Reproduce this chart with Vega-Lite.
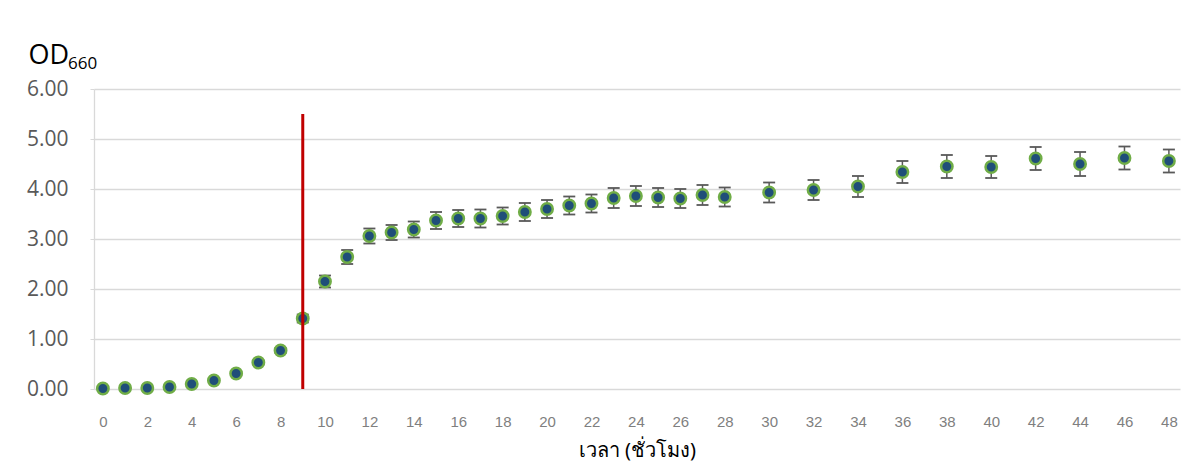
{
  "$schema": "https://vega.github.io/schema/vega-lite/v6.json",
  "width": 1086,
  "height": 300,
  "autosize": {"type": "none"},
  "padding": {"left": 94, "top": 89, "right": 21, "bottom": 73},
  "background": "white",
  "title": {"text": "660", "anchor": "start", "frame": "group", "fontSize": 17, "font": "Open Sans", "fontWeight": "normal", "color": "#000000", "dx": -26, "dy": 36},
  "config": {"view": {"stroke": null}},
  "datasets": {
    "growth": [
      {"t": 0, "od": 0.01, "lo": 0.0, "hi": 0.02},
      {"t": 1, "od": 0.02, "lo": 0.01, "hi": 0.03},
      {"t": 2, "od": 0.02, "lo": 0.01, "hi": 0.03},
      {"t": 3, "od": 0.04, "lo": 0.03, "hi": 0.05},
      {"t": 4, "od": 0.10, "lo": 0.08, "hi": 0.12},
      {"t": 5, "od": 0.17, "lo": 0.15, "hi": 0.19},
      {"t": 6, "od": 0.31, "lo": 0.28, "hi": 0.34},
      {"t": 7, "od": 0.53, "lo": 0.49, "hi": 0.57},
      {"t": 8, "od": 0.77, "lo": 0.72, "hi": 0.82},
      {"t": 9, "od": 1.41, "lo": 1.33, "hi": 1.49},
      {"t": 10, "od": 2.15, "lo": 2.03, "hi": 2.27},
      {"t": 11, "od": 2.64, "lo": 2.50, "hi": 2.78},
      {"t": 12, "od": 3.06, "lo": 2.91, "hi": 3.21},
      {"t": 13, "od": 3.13, "lo": 2.98, "hi": 3.28},
      {"t": 14, "od": 3.19, "lo": 3.03, "hi": 3.35},
      {"t": 15, "od": 3.37, "lo": 3.20, "hi": 3.54},
      {"t": 16, "od": 3.41, "lo": 3.24, "hi": 3.58},
      {"t": 17, "od": 3.41, "lo": 3.23, "hi": 3.59},
      {"t": 18, "od": 3.46, "lo": 3.29, "hi": 3.63},
      {"t": 19, "od": 3.54, "lo": 3.36, "hi": 3.72},
      {"t": 20, "od": 3.60, "lo": 3.42, "hi": 3.78},
      {"t": 21, "od": 3.67, "lo": 3.49, "hi": 3.85},
      {"t": 22, "od": 3.71, "lo": 3.53, "hi": 3.89},
      {"t": 23, "od": 3.82, "lo": 3.62, "hi": 4.02},
      {"t": 24, "od": 3.86, "lo": 3.66, "hi": 4.06},
      {"t": 25, "od": 3.83, "lo": 3.64, "hi": 4.02},
      {"t": 26, "od": 3.81, "lo": 3.62, "hi": 4.00},
      {"t": 27, "od": 3.88, "lo": 3.68, "hi": 4.08},
      {"t": 28, "od": 3.84, "lo": 3.65, "hi": 4.03},
      {"t": 30, "od": 3.93, "lo": 3.73, "hi": 4.13},
      {"t": 32, "od": 3.98, "lo": 3.78, "hi": 4.18},
      {"t": 34, "od": 4.05, "lo": 3.84, "hi": 4.26},
      {"t": 36, "od": 4.34, "lo": 4.12, "hi": 4.56},
      {"t": 38, "od": 4.45, "lo": 4.22, "hi": 4.68},
      {"t": 40, "od": 4.44, "lo": 4.22, "hi": 4.66},
      {"t": 42, "od": 4.61, "lo": 4.38, "hi": 4.84},
      {"t": 44, "od": 4.50, "lo": 4.26, "hi": 4.74},
      {"t": 46, "od": 4.62, "lo": 4.39, "hi": 4.85},
      {"t": 48, "od": 4.56, "lo": 4.33, "hi": 4.79}
    ],
    "marker": [
      {"t": 9, "y0": 0, "y1": 5.5}
    ]
  },
  "encoding": {
    "x": {
      "field": "t",
      "type": "quantitative",
      "title": "เวลา (ชั่วโมง)",
      "scale": {"domain": [-0.4, 48.5], "nice": false, "zero": false},
      "axis": {
        "values": [0, 2, 4, 6, 8, 10, 12, 14, 16, 18, 20, 22, 24, 26, 28, 30, 32, 34, 36, 38, 40, 42, 44, 46, 48],
        "grid": false,
        "domain": false,
        "ticks": false,
        "labelFont": "Liberation Sans",
        "labelFontSize": 15,
        "labelColor": "#7f7f7f",
        "labelPadding": 25,
        "titleFont": "Noto Sans",
        "titleFontSize": 20,
        "titleFontWeight": "normal",
        "titleColor": "#000000",
        "titlePadding": 11
      }
    }
  },
  "layer": [
    {
      "data": {"name": "growth"},
      "mark": {"type": "rule", "color": "#595959", "strokeWidth": 1.5},
      "encoding": {
        "y": {
          "field": "lo",
          "type": "quantitative",
          "title": "OD",
          "scale": {"domain": [0, 6], "nice": false},
          "axis": {
            "values": [0, 1, 2, 3, 4, 5, 6],
            "format": ".2f",
            "grid": true,
            "gridColor": "#d9d9d9",
            "gridWidth": 1.3,
            "domain": true,
            "domainColor": "#d9d9d9",
            "domainWidth": 1.3,
            "ticks": true,
            "tickColor": "#d9d9d9",
            "tickSize": 4,
            "labelFont": "Open Sans",
            "labelFontSize": 21,
            "labelColor": "#595959",
            "labelPadding": 22,
            "titleAngle": 0,
            "titleX": -66,
            "titleY": -26,
            "titleAlign": "left",
            "titleBaseline": "alphabetic",
            "titleFont": "Open Sans",
            "titleFontSize": 27,
            "titleFontWeight": "normal",
            "titleColor": "#000000"
          }
        },
        "y2": {"field": "hi"}
      }
    },
    {
      "data": {"name": "growth"},
      "mark": {"type": "tick", "orient": "horizontal", "color": "#595959", "size": 12, "thickness": 1.8, "opacity": 1},
      "encoding": {"y": {"field": "lo", "type": "quantitative", "title": "OD"}}
    },
    {
      "data": {"name": "growth"},
      "mark": {"type": "tick", "orient": "horizontal", "color": "#595959", "size": 12, "thickness": 1.8, "opacity": 1},
      "encoding": {"y": {"field": "hi", "type": "quantitative", "title": "OD"}}
    },
    {
      "data": {"name": "growth"},
      "mark": {"type": "point", "shape": "circle", "filled": true, "fill": "#1f4e79", "stroke": "#70ad47", "strokeWidth": 2.5, "size": 130, "opacity": 1},
      "encoding": {"y": {"field": "od", "type": "quantitative", "title": "OD"}}
    },
    {
      "data": {"name": "marker"},
      "mark": {"type": "rule", "color": "#c00000", "strokeWidth": 3},
      "encoding": {
        "y": {"field": "y0", "type": "quantitative", "title": "OD"},
        "y2": {"field": "y1"}
      }
    }
  ]
}
